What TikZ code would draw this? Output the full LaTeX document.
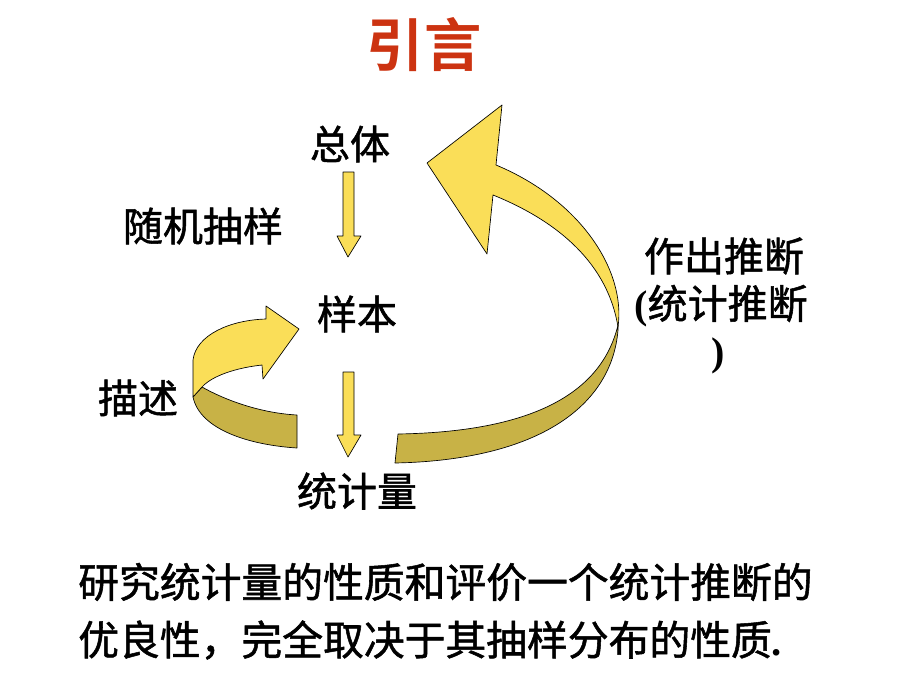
\documentclass[tikz,border=0pt]{standalone}
\usepackage{fontspec}
\setmainfont{Noto Sans CJK SC}
\newfontfamily\cjk[FakeBold=1.3]{Noto Sans CJK SC}
\newfontfamily\cjkb{Noto Sans CJK SC Bold}
\newfontfamily\pserif{Liberation Serif Bold}
\definecolor{ayel}{RGB}{250,222,88}
\definecolor{adark}{RGB}{200,178,70}
\definecolor{ttl}{RGB}{204,51,17}
\begin{document}
\begin{tikzpicture}[x=0.75pt,y=-0.75pt,
  lbl/.style={font=\cjk\fontsize{30}{36}\selectfont, inner sep=0pt},
  para/.style={font=\cjk\fontsize{30.6}{36}\selectfont, inner sep=0pt, anchor=west},
  face/.style={fill=ayel, draw=black, line width=0.5pt, line join=round},
  back/.style={fill=adark, draw=black, line width=0.5pt, line join=round}]
\useasboundingbox (0,0) rectangle (920,690);
% title
\node[font=\cjkb\fontsize{43}{50}\selectfont, text=ttl, inner sep=0pt] (title) at (424,45) {引言};
% labels
\node[lbl] (zt) at (350,144) {总体};
\node[lbl] (sj) at (203,226) {随机抽样};
\node[lbl] (yb) at (357,314) {样本};
\node[lbl] (ms) at (138,398) {描述};
\node[lbl] (tjl) at (357,491) {统计量};
\node[lbl] (zc) at (724,256) {作出推断};
\node[lbl] (tj) at (721,306) {{\pserif(}统计推断};
\node[lbl] (rp) at (718,356) {\pserif)};
\node[para] (l1) at (78,582) {研究统计量的性质和评价一个统计推断的};
\node[para] (l2) at (78,640) {优良性，完全取决于其抽样分布的性质{\pserif.}};
% small down arrows
\draw[face] (343,172) -- (354,172) -- (354,236) -- (361,236) -- (348,257) -- (337,236) -- (343,236) -- cycle;
\draw[face] (343,372) -- (354,372) -- (354,435) -- (361,435) -- (348,457) -- (337,435) -- (343,435) -- cycle;
% big curved arrow: dark lower band
\draw[back] (618,325) .. controls (600,400) and (520,432) .. (398,434)
  -- (395,463) .. controls (540,460) and (612,405) .. (618,330) -- cycle;
% big curved arrow: yellow upper face with head
\draw[face] (493,195) .. controls (560,222) and (608,265) .. (618,327)
  .. controls (626,270) and (580,200) .. (496,165)
  -- (502,105) -- (427,163) -- (487,254) -- cycle;
% small curved arrow: dark band
\draw[back] (202,387) .. controls (225,400) and (260,413) .. (297,415)
  -- (297,448) .. controls (250,445) and (200,430) .. (193,397) -- cycle;
% small curved arrow: yellow face with head
\draw[face] (262,365) .. controls (235,368) and (212,376) .. (202,387)
  -- (193,397) -- (193,360) .. controls (196,335) and (230,320) .. (266,319)
  -- (266,306) -- (299,329) -- (263,379) -- cycle;
\end{tikzpicture}
\end{document}
